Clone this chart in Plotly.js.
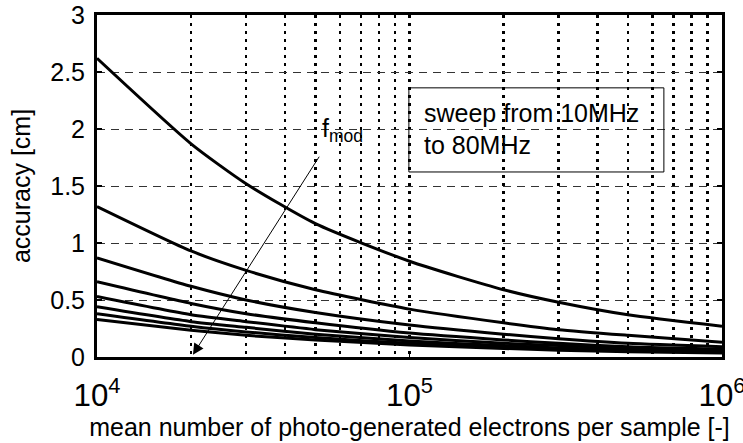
<!DOCTYPE html>
<html>
<head>
<meta charset="utf-8">
<script src="https://cdn.plot.ly/plotly-3.0.1.min.js"></script>
<style>html,body{margin:0;padding:0;background:#fff;}#chart{width:743px;height:443px;}</style>
</head>
<body>
<div id="chart"></div>
<script>
// mean number of photo-generated electrons per sample
const electrons = [1e4, 2e4, 3e4, 5e4, 1e5, 2e5, 3e5, 5e5, 1e6];
// accuracy [cm] for modulation frequencies 10..80 MHz
const acc10MHz = [2.62, 1.87, 1.52, 1.17, 0.84, 0.59, 0.48, 0.37, 0.27];
const acc20MHz = [1.32, 0.93, 0.76, 0.59, 0.42, 0.30, 0.24, 0.19, 0.13];
const acc30MHz = [0.87, 0.62, 0.50, 0.39, 0.28, 0.20, 0.16, 0.12, 0.09];
const acc40MHz = [0.66, 0.47, 0.38, 0.30, 0.21, 0.15, 0.12, 0.09, 0.07];
const acc50MHz = [0.53, 0.37, 0.31, 0.24, 0.17, 0.12, 0.10, 0.075, 0.055];
const acc60MHz = [0.44, 0.31, 0.26, 0.20, 0.14, 0.10, 0.08, 0.063, 0.045];
const acc70MHz = [0.38, 0.27, 0.22, 0.17, 0.12, 0.085, 0.07, 0.054, 0.04];
const acc80MHz = [0.33, 0.235, 0.19, 0.15, 0.105, 0.075, 0.06, 0.047, 0.035];
const series = [acc10MHz, acc20MHz, acc30MHz, acc40MHz, acc50MHz, acc60MHz, acc70MHz, acc80MHz];
const names = ['10MHz','20MHz','30MHz','40MHz','50MHz','60MHz','70MHz','80MHz'];

const font = 'Arial, "Liberation Sans", Helvetica, sans-serif';
const traces = series.map((ys, i) => ({
  x: electrons, y: ys, type: 'scatter', mode: 'lines', name: names[i],
  line: {color: '#000', width: 3, shape: 'spline', smoothing: 0.6},
  showlegend: false, hoverinfo: 'skip'
}));

const layout = {
  width: 743, height: 443,
  margin: {l: 97, r: 21, t: 15, b: 86},
  paper_bgcolor: '#fff', plot_bgcolor: '#fff',
  font: {family: font, size: 25, color: '#000'},
  showlegend: false,
  xaxis: {
    type: 'log', range: [4, 6], dtick: 1, exponentformat: 'power',
    showline: true, linewidth: 3, linecolor: '#000', mirror: true,
    ticks: 'inside', ticklen: 5, tickwidth: 1, tickcolor: '#000',
    showgrid: true, gridcolor: '#000', gridwidth: 2.5, griddash: '3px,5px',
    minor: {dtick: 'D1', showgrid: true, gridcolor: '#000', gridwidth: 2.5, griddash: '3px,5px', ticks: ''},
    zeroline: false,
    tickfont: {size: 25, family: font},
    ticklabelstandoff: 10,
    ticklabeloverflow: 'allow',
    title: {text: 'mean number of photo-generated electrons per sample [-]', font: {size: 25, family: font}, standoff: 4}
  },
  yaxis: {
    range: [0, 3], dtick: 0.5,
    showline: true, linewidth: 3, linecolor: '#000', mirror: 'ticks',
    ticks: 'inside', ticklen: 5, tickwidth: 2, tickcolor: '#000',
    showgrid: true, gridcolor: '#333', gridwidth: 1, griddash: '8px,6px',
    zeroline: false,
    tickfont: {size: 25, family: font},
    ticklabelstandoff: 4,
    title: {text: 'accuracy [cm]', font: {size: 25, family: font}, standoff: 13}
  },
  shapes: [
    {type: 'rect', xref: 'paper', yref: 'paper', x0: 0.499, x1: 0.907, y0: 0.541, y1: 0.787,
     line: {color: '#000', width: 1}, fillcolor: 'rgba(0,0,0,0)'}
  ],
  annotations: [
    {xref: 'x', yref: 'y', axref: 'x', ayref: 'y', x: 4.307, y: 0.02, ax: 4.714, ay: 1.77,
     showarrow: true, arrowhead: 2, arrowsize: 2.2, arrowwidth: 1, arrowcolor: '#000', text: ''},
    {xref: 'paper', yref: 'paper', x: 0.357, y: 0.665, xanchor: 'left', yanchor: 'middle',
     text: 'f<sub>mod</sub>', showarrow: false, font: {size: 25, family: font}},
    {xref: 'paper', yref: 'paper', x: 0.52, y: 0.713, xanchor: 'left', yanchor: 'middle',
     text: 'sweep from 10MHz', showarrow: false, font: {size: 25, family: font}},
    {xref: 'paper', yref: 'paper', x: 0.52, y: 0.62, xanchor: 'left', yanchor: 'middle',
     text: 'to 80MHz', showarrow: false, font: {size: 25, family: font}}
  ]
};

Plotly.newPlot('chart', traces, layout, {staticPlot: true, displayModeBar: false});
</script>
</body>
</html>
